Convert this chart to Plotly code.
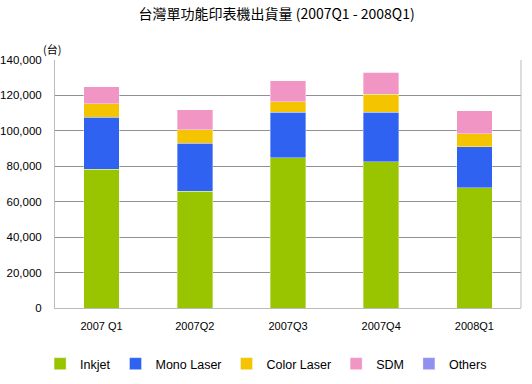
import plotly.graph_objects as go

categories = ["2007 Q1", "2007Q2", "2007Q3", "2007Q4", "2008Q1"]
inkjet = [78300, 66000, 84700, 82600, 67900]
mono_laser = [29500, 27000, 25800, 27900, 23000]
color_laser = [7550, 7700, 6000, 10300, 7350]
sdm = [9600, 11300, 11850, 12400, 13000]
others = [0, 0, 0, 0, 0]

series = [
    ("Inkjet", inkjet, "#99C400"),
    ("Mono Laser", mono_laser, "#2F62F0"),
    ("Color Laser", color_laser, "#F5C400"),
    ("SDM", sdm, "#F095C4"),
    ("Others", others, "#9090F0"),
]

fig = go.Figure()
for name, vals, col in series:
    fig.add_trace(go.Bar(
        x=categories, y=vals, name=name,
        marker=dict(color=col, line=dict(color="rgba(255,255,255,0.6)", width=0.6)),
    ))

fig.update_layout(
    barmode="stack",
    bargap=0.62,
    width=532, height=384,
    margin=dict(l=55, r=10.5, t=60, b=76, autoexpand=False),
    paper_bgcolor="white", plot_bgcolor="white",
    title=dict(text="台灣單功能印表機出貨量 (2007Q1 - 2008Q1)",
               x=0.52, xanchor="center", y=0.963, yanchor="middle",
               font=dict(family="Noto Sans CJK TC", size=14, color="#000")),
    font=dict(family="Liberation Sans, Arial", size=11, color="#000"),
    xaxis=dict(showline=True, linecolor="#BBBBBB", ticks="", showgrid=False,
               tickfont=dict(size=11), ticklabelstandoff=8),
    yaxis=dict(range=[0, 140000], dtick=20000, tickformat=",d",
               showgrid=True, gridcolor="#909090", gridwidth=1,
               showline=True, linecolor="#BBBBBB", ticks="", ticklabelstandoff=10,
               tickfont=dict(size=11.5), zeroline=False),
    legend=dict(orientation="h",
                x=0.453, xanchor="center", y=-0.226, yanchor="middle",
                font=dict(size=12.5), itemwidth=30, traceorder="normal",
                itemclick=False, tracegroupgap=0),
    annotations=[dict(text="(台)", xref="paper", yref="paper", x=0.0, y=1.0,
                      xanchor="right", yanchor="bottom", showarrow=False,
                      font=dict(family="Noto Sans CJK TC", size=11), yshift=1, xshift=8)],
    showlegend=True,
)
fig.add_shape(type="line", xref="paper", yref="paper", x0=1, x1=1, y0=0, y1=1,
              line=dict(color="#BBBBBB", width=1))

fig.write_html("out.html", config={"displayModeBar": False},
               post_script="document.body.style.margin='0';")
